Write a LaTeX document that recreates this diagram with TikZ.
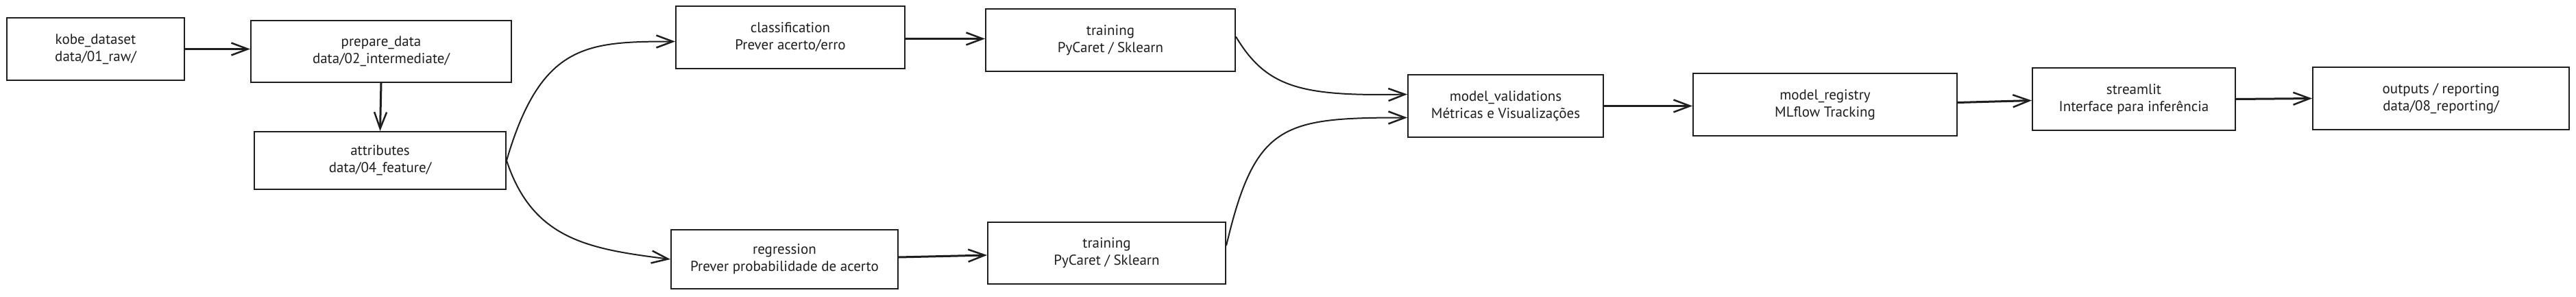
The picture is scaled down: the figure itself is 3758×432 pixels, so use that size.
\documentclass[tikz,border=0pt]{standalone}
\usepackage{fontspec}
\setmainfont{PT Sans}
\usetikzlibrary{arrows.meta}
\definecolor{ink}{HTML}{1E1E1E}
\begin{document}
\begin{tikzpicture}[x=1pt,y=-1pt,
  box/.style={draw=ink, line width=2pt, fill=white, inner sep=0pt, align=center,
    text=ink, font=\fontsize{21}{25}\selectfont, minimum height=91pt},
  conn/.style={draw=ink, line width=3pt, -{Straight Barb[length=24pt,width=18pt,line width=2.5pt]}},
  curve/.style={draw=ink, line width=2pt, -{Straight Barb[length=24pt,width=18pt,line width=2.5pt]}}
]
\useasboundingbox[fill=white] (0,0) rectangle (3758,432);
\node[box, minimum width=259pt] (kobe) at (139.5,71.5) {kobe\_dataset\\data/01\_raw/};
\node[box, minimum width=380pt, minimum height=90pt] (prep) at (556,75) {prepare\_data\\data/02\_intermediate/};
\node[box, minimum width=367pt, minimum height=84pt] (attr) at (554.5,234) {attributes\\data/04\_feature/};
\node[box, minimum width=334pt] (cls) at (1153,54.5) {classification\\Prever acerto/erro};
\node[box, minimum width=364pt] (trA) at (1620,58.5) {training\\PyCaret / Sklearn};
\node[box, minimum width=331pt, minimum height=86pt] (reg) at (1144.5,378) {regression\\Prever probabilidade de acerto};
\node[box, minimum width=347pt, minimum height=90pt] (trB) at (1614.5,369) {training\\PyCaret / Sklearn};
\node[box, minimum width=285pt] (mv) at (2196.5,154.5) {model\_validations\\Métricas e Visualizações};
\node[box, minimum width=385pt] (mr) at (2662.5,152.5) {model\_registry\\MLflow Tracking};
\node[box, minimum width=296pt] (st) at (3113,144.5) {streamlit\\Interface para inferência};
\node[box, minimum width=374pt] (out) at (3561,143.5) {outputs / reporting\\data/08\_reporting/};

\draw[conn] (kobe.east) -- (kobe.east -| prep.west);
\draw[conn] (prep.south) -- (attr.north);
\draw[curve] (attr.east) .. controls +(50,-170) and +(-130,0) .. ([yshift=-6pt]cls.west);
\draw[curve] (attr.east) .. controls +(38,115) and +(-120,-15) .. (reg.west);
\draw[conn] ([yshift=-2pt]cls.east) -- ([yshift=-2pt]cls.east -| trA.west);
\draw[conn] ([yshift=3pt]reg.east) -- ([yshift=-3pt]trB.west);
\draw[curve] ([yshift=5pt]trA.east) .. controls +(45,75) and +(-154,3) .. ([yshift=17pt]mv.west);
\draw[curve] ([yshift=11pt]trB.east) .. controls +(42,-178) and +(-182,0) .. ([yshift=-17pt]mv.west);
\draw[conn] (mv.east) -- (mv.east -| mr.west);
\draw[conn] ([yshift=3pt]mr.east) -- ([yshift=-2pt]st.west);
\draw[conn] (st.east) -- (out.west);
\end{tikzpicture}
\end{document}
